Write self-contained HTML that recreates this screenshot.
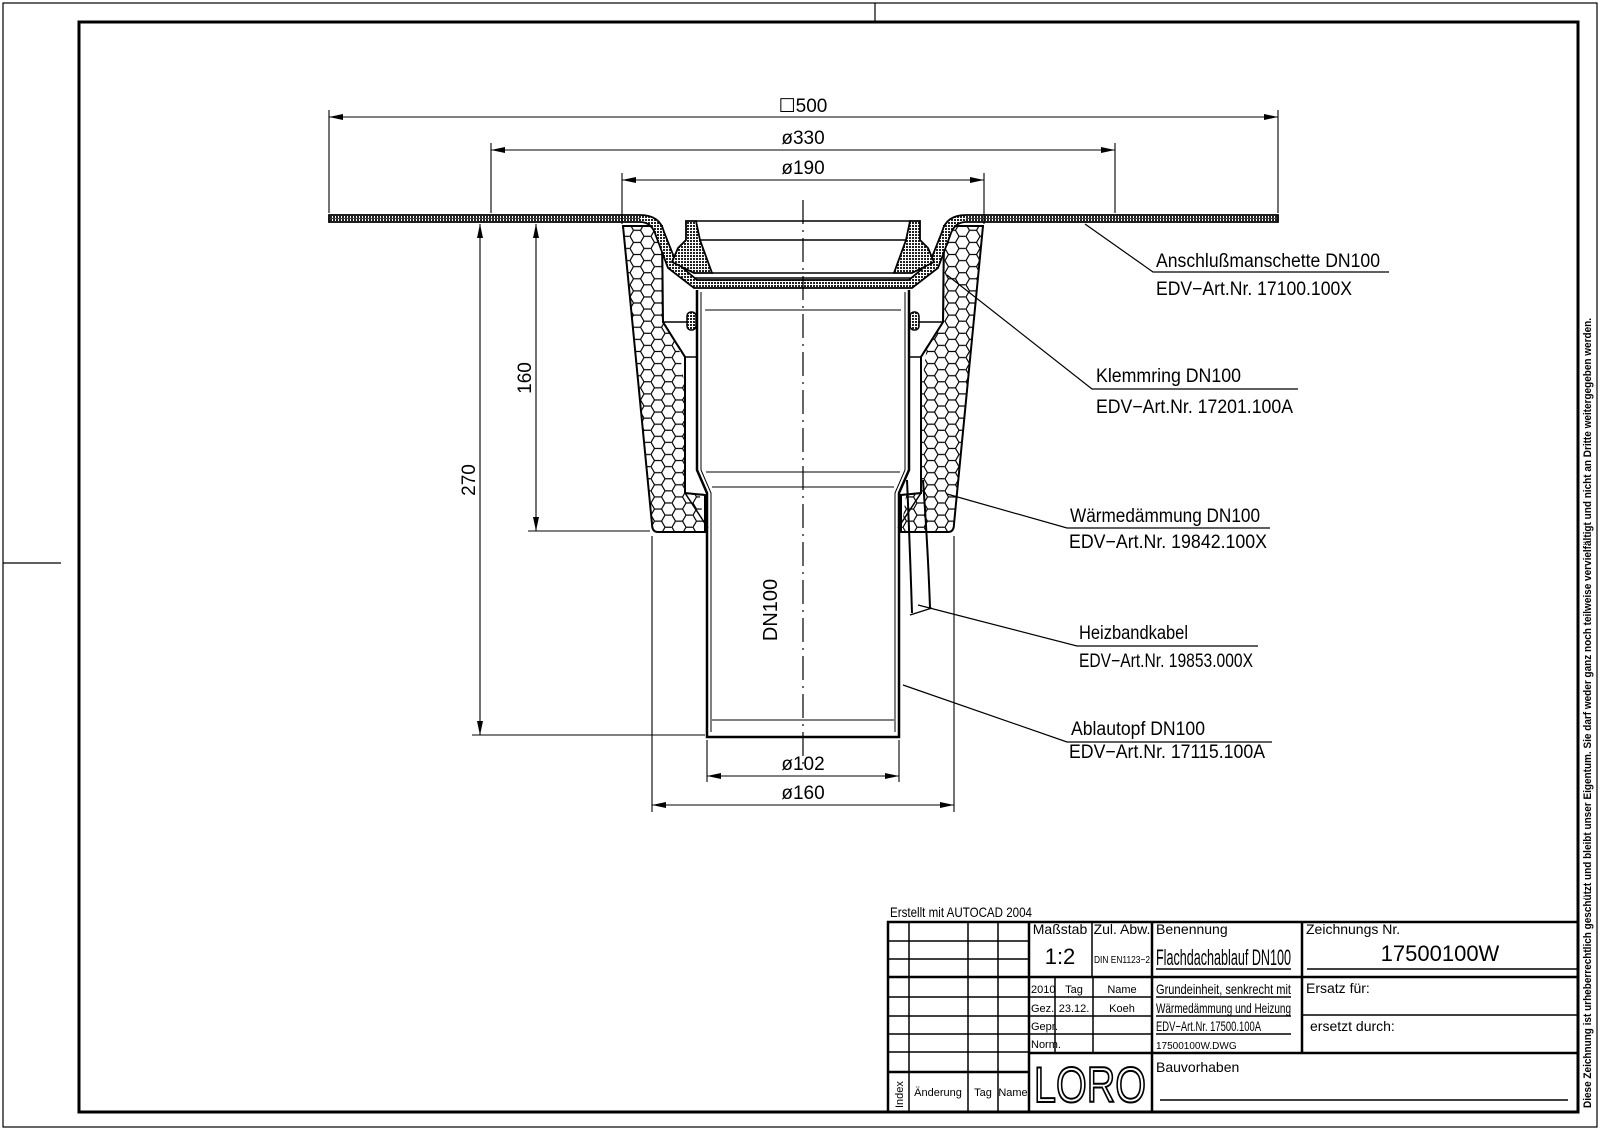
<!DOCTYPE html>
<html><head><meta charset="utf-8"><style>
html,body{margin:0;padding:0;background:#fff;}
svg{display:block;}
text{font-family:"Liberation Sans Narrow","Liberation Sans",sans-serif;fill:#000;}
</style></head><body>
<svg width="1600" height="1133" viewBox="0 0 1600 1133" xmlns="http://www.w3.org/2000/svg">
<defs>
<pattern id="hex" width="21" height="12.12" patternUnits="userSpaceOnUse">
<path d="M0,6.06 L3.5,0 L10.5,0 L14,6.06 L10.5,12.12 L3.5,12.12 Z M14,6.06 L21,6.06" fill="none" stroke="#000" stroke-width="1.2"/>
</pattern>
<pattern id="dots" width="3" height="3" patternUnits="userSpaceOnUse">
<rect width="3" height="3" fill="#fff"/><rect width="2" height="2" fill="#222"/>
</pattern>
<marker id="a" viewBox="0 0 14 6" refX="14" refY="3" markerWidth="14" markerHeight="6" markerUnits="userSpaceOnUse" orient="auto-start-reverse"><path d="M0,0 L14,3 L0,6 Z" fill="#000"/></marker>
</defs>

<!-- frames -->
<rect x="3" y="3" width="1594" height="1124" fill="none" stroke="#000" stroke-width="1.2"/>
<rect x="79" y="22" width="1499" height="1090" fill="none" stroke="#000" stroke-width="3"/>
<line x1="875" y1="3" x2="875" y2="22" stroke="#000" stroke-width="1.2"/>
<line x1="3" y1="563" x2="61" y2="563" stroke="#000" stroke-width="1.2"/>

<!-- insulation -->
<g stroke="#000" stroke-width="2">
<path d="M623,226 L662,226 L663,322 L685,357 L685,493 L705,495 L705,532 L658,532 Q652,532 652,524 Z" fill="url(#hex)"/>
<path d="M983,226 L944,226 L943,322 L921,357 L921,493 L901,495 L901,532 L948,532 Q954,532 954,524 Z" fill="url(#hex)"/>
<path d="M662,226 L663,322 L685,357 L685,493 L705,495 L705,532" fill="#fff"/>
<path d="M944,226 L943,322 L921,357 L921,493 L901,495 L901,532" fill="#fff"/>
</g>
<g stroke="#000" stroke-width="1.5" fill="none">
<line x1="663" y1="322" x2="690" y2="322"/><line x1="943" y1="322" x2="916" y2="322"/>
<line x1="685" y1="357" x2="697" y2="357"/><line x1="921" y1="357" x2="909" y2="357"/>
<line x1="685" y1="493" x2="708" y2="528"/><line x1="921" y1="493" x2="898" y2="528"/>
</g>

<!-- membrane -->
<path d="M329,215 L640,215 Q660,215 664,232 L676,262 L697,280 L909,280 L930,262 L942,232 Q946,215 966,215 L1278,215 L1278,222 L966,222 Q954,222 950,236 L938,268 L912,288 L694,288 L668,268 L656,236 Q652,222 640,222 L329,222 Z" fill="url(#dots)" stroke="#000" stroke-width="1.8"/>
<line x1="329" y1="218.5" x2="640" y2="218.5" stroke="#000" stroke-width="0.8"/>
<line x1="966" y1="218.5" x2="1278" y2="218.5" stroke="#000" stroke-width="0.8"/>
<!-- clamp ring -->
<path d="M686,221 L696,221 L700,240 L712,273 L694,273 L672,262 L678,248 L686,240 Z" fill="url(#dots)" stroke="#000" stroke-width="1.8"/>
<path d="M920,221 L910,221 L906,240 L894,273 L912,273 L934,262 L928,248 L920,240 Z" fill="url(#dots)" stroke="#000" stroke-width="1.8"/>
<g stroke="#000" stroke-width="1.5">
<line x1="696" y1="221" x2="910" y2="221"/>
<line x1="700" y1="240" x2="906" y2="240"/>
<line x1="712" y1="273" x2="894" y2="273"/>
<line x1="694" y1="278" x2="912" y2="278"/>
</g>

<!-- pipe -->
<g fill="none" stroke="#000" stroke-width="2.5">
<path d="M697,290 L697,470 L707,493 L707,737 L899,737 L899,493 L909,470 L909,290"/>
</g>
<g fill="none" stroke="#000" stroke-width="1">
<path d="M701,292 L701,470 L711,493 L711,732"/>
<path d="M905,292 L905,470 L895,493 L895,732"/>
<line x1="705" y1="310" x2="901" y2="310"/>
<line x1="706" y1="472" x2="900" y2="472"/>
<line x1="712" y1="487" x2="894" y2="487"/>
<line x1="712" y1="720" x2="894" y2="720"/>
</g>
<rect x="687" y="312" width="9" height="18" rx="4" fill="url(#dots)" stroke="#000" stroke-width="1.5"/>
<rect x="910" y="312" width="9" height="18" rx="4" fill="url(#dots)" stroke="#000" stroke-width="1.5"/>
<!-- cable -->
<path d="M907,480 Q910,550 912,613 M923,480 Q928,550 930,608" fill="none" stroke="#000" stroke-width="2"/>
<line x1="910" y1="615" x2="932" y2="608" stroke="#000" stroke-width="1.2"/>

<!-- center line -->
<line x1="803" y1="200" x2="803" y2="770" stroke="#000" stroke-width="1.2" stroke-dasharray="24,6,2,6"/>

<!-- dimensions -->
<g stroke="#000" stroke-width="1.1" fill="none">
<line x1="329" y1="110" x2="329" y2="213"/><line x1="1278" y1="110" x2="1278" y2="213"/>
<line x1="329" y1="117" x2="1278" y2="117" marker-start="url(#a)" marker-end="url(#a)"/>
<line x1="491" y1="143" x2="491" y2="213"/><line x1="1115" y1="143" x2="1115" y2="213"/>
<line x1="491" y1="150" x2="1115" y2="150" marker-start="url(#a)" marker-end="url(#a)"/>
<line x1="622" y1="173" x2="622" y2="224"/><line x1="984" y1="173" x2="984" y2="224"/>
<line x1="622" y1="180" x2="984" y2="180" marker-start="url(#a)" marker-end="url(#a)"/>
<line x1="480" y1="224" x2="480" y2="735" marker-start="url(#a)" marker-end="url(#a)"/>
<line x1="472" y1="735" x2="705" y2="735"/>
<line x1="536" y1="224" x2="536" y2="531" marker-start="url(#a)" marker-end="url(#a)"/>
<line x1="528" y1="531" x2="650" y2="531"/>
<line x1="707" y1="740" x2="707" y2="782"/><line x1="899" y1="740" x2="899" y2="782"/>
<line x1="707" y1="776" x2="899" y2="776" marker-start="url(#a)" marker-end="url(#a)"/>
<line x1="652" y1="536" x2="652" y2="812"/><line x1="954" y1="536" x2="954" y2="812"/>
<line x1="652" y1="805" x2="954" y2="805" marker-start="url(#a)" marker-end="url(#a)"/>
</g>
<g font-size="19" text-anchor="middle">
<text x="803" y="112">☐500</text>
<text x="803" y="144">ø330</text>
<text x="803" y="174">ø190</text>
<text x="803" y="770">ø102</text>
<text x="803" y="799">ø160</text>
<text transform="translate(475,480) rotate(-90)">270</text>
<text transform="translate(531,378) rotate(-90)">160</text>
<text transform="translate(777,610) rotate(-90)" font-size="20">DN100</text>
</g>

<!-- leaders -->
<g stroke="#000" stroke-width="1.2" fill="none">
<polyline points="1085,224 1153,272 1389,272"/>
<polyline points="947,275 1092,389 1298,389"/>
<polyline points="947,494 1067,528 1270,528"/>
<polyline points="918,605 1077,646 1258,646"/>
<polyline points="903,685 1067,742 1272,742"/>
</g>
<g font-size="19">
<text x="1156" y="267" textLength="224" lengthAdjust="spacingAndGlyphs">Anschlußmanschette DN100</text>
<text x="1156" y="295" textLength="196" lengthAdjust="spacingAndGlyphs">EDV−Art.Nr. 17100.100X</text>
<text x="1096" y="382" textLength="145" lengthAdjust="spacingAndGlyphs">Klemmring DN100</text>
<text x="1096" y="413" textLength="197" lengthAdjust="spacingAndGlyphs">EDV−Art.Nr. 17201.100A</text>
<text x="1070" y="522" textLength="190" lengthAdjust="spacingAndGlyphs">Wärmedämmung DN100</text>
<text x="1069" y="548" textLength="198" lengthAdjust="spacingAndGlyphs">EDV−Art.Nr. 19842.100X</text>
<text x="1079" y="639" textLength="109" lengthAdjust="spacingAndGlyphs">Heizbandkabel</text>
<text x="1079" y="667" textLength="174" lengthAdjust="spacingAndGlyphs">EDV−Art.Nr. 19853.000X</text>
<text x="1071" y="735" textLength="134" lengthAdjust="spacingAndGlyphs">Ablautopf DN100</text>
<text x="1069" y="758" textLength="196" lengthAdjust="spacingAndGlyphs">EDV−Art.Nr. 17115.100A</text>
</g>

<!-- title block -->
<text x="890" y="917" font-size="14" textLength="142" lengthAdjust="spacingAndGlyphs">Erstellt mit AUTOCAD 2004</text>
<g stroke="#000" fill="none">
<rect x="888" y="922" width="690" height="190" stroke-width="2.5"/>
<g stroke-width="1.5">
<line x1="909" y1="922" x2="909" y2="1112"/>
<line x1="968" y1="922" x2="968" y2="1112"/>
<line x1="998" y1="922" x2="998" y2="1112"/>
<line x1="888" y1="941" x2="1029" y2="941"/>
<line x1="888" y1="959" x2="1029" y2="959"/>
<line x1="888" y1="997" x2="1029" y2="997"/>
<line x1="888" y1="1016" x2="1029" y2="1016"/>
<line x1="888" y1="1034" x2="1029" y2="1034"/>
<line x1="888" y1="1052" x2="1029" y2="1052"/>
<line x1="1055" y1="977" x2="1055" y2="1053"/>
<line x1="1093" y1="977" x2="1093" y2="1053"/>
<line x1="1092" y1="922" x2="1092" y2="977"/>
<line x1="1029" y1="997" x2="1152" y2="997"/>
<line x1="1029" y1="1016" x2="1152" y2="1016"/>
<line x1="1029" y1="1034" x2="1152" y2="1034"/>
<line x1="1302" y1="1015" x2="1578" y2="1015"/>
<line x1="1156" y1="969" x2="1291" y2="969"/>
<line x1="1307" y1="969" x2="1578" y2="969"/>
<line x1="1156" y1="997" x2="1291" y2="997"/>
<line x1="1156" y1="1016" x2="1291" y2="1016"/>
<line x1="1156" y1="1034" x2="1291" y2="1034"/>
<line x1="1160" y1="1100" x2="1568" y2="1100"/>
</g>
<g stroke-width="2.5">
<line x1="1029" y1="922" x2="1029" y2="1112"/>
<line x1="1152" y1="922" x2="1152" y2="1112"/>
<line x1="1302" y1="922" x2="1302" y2="1053"/>
<line x1="888" y1="977" x2="1578" y2="977"/>
<line x1="888" y1="1072" x2="1029" y2="1072"/>
<line x1="1029" y1="1053" x2="1578" y2="1053"/>
</g>
</g>
<g font-size="14">
<text x="1060" y="934" text-anchor="middle">Maßstab</text>
<text x="1060" y="964" font-size="22" text-anchor="middle">1:2</text>
<text x="1122" y="934" text-anchor="middle">Zul. Abw.</text>
<text x="1122" y="963" font-size="10" text-anchor="middle" textLength="56" lengthAdjust="spacingAndGlyphs">DIN EN1123−2</text>
<text x="1156" y="934">Benennung</text>
<text x="1156" y="965" font-size="22" textLength="135" lengthAdjust="spacingAndGlyphs">Flachdachablauf DN100</text>
<text x="1306" y="934">Zeichnungs Nr.</text>
<text x="1440" y="961" font-size="22" text-anchor="middle">17500100W</text>
<text x="1031" y="993" font-size="11">2010</text>
<text x="1074" y="993" font-size="11" text-anchor="middle">Tag</text>
<text x="1122" y="993" font-size="11" text-anchor="middle">Name</text>
<text x="1031" y="1012" font-size="11">Gez.</text>
<text x="1074" y="1012" font-size="11" text-anchor="middle">23.12.</text>
<text x="1122" y="1012" font-size="11" text-anchor="middle">Koeh</text>
<text x="1031" y="1030" font-size="11">Gepr.</text>
<text x="1031" y="1048" font-size="11">Norm.</text>
<text x="1156" y="994" textLength="135" lengthAdjust="spacingAndGlyphs">Grundeinheit, senkrecht mit</text>
<text x="1156" y="1013" textLength="135" lengthAdjust="spacingAndGlyphs">Wärmedämmung und Heizung</text>
<text x="1156" y="1031" textLength="105" lengthAdjust="spacingAndGlyphs">EDV−Art.Nr. 17500.100A</text>
<text x="1156" y="1049" font-size="10">17500100W.DWG</text>
<text x="1306" y="993">Ersatz für:</text>
<text x="1310" y="1031">ersetzt durch:</text>
<text x="1156" y="1072">Bauvorhaben</text>
<text x="938" y="1096" font-size="11" text-anchor="middle">Änderung</text>
<text x="983" y="1096" font-size="11" text-anchor="middle">Tag</text>
<text x="1013" y="1096" font-size="11" text-anchor="middle">Name</text>
<text transform="translate(903,1108) rotate(-90)" font-size="11">Index</text>
</g>
<text x="1090" y="1102" font-size="50" text-anchor="middle" style="fill:#fff" stroke="#000" stroke-width="2" textLength="112" lengthAdjust="spacingAndGlyphs">LORO</text>
<text transform="translate(1591,1108) rotate(-90)" font-size="11" font-weight="bold" textLength="790" lengthAdjust="spacingAndGlyphs">Diese Zeichnung ist urheberrechtlich geschützt und bleibt unser Eigentum. Sie darf weder ganz noch teilweise vervielfältigt und nicht an Dritte weitergegeben werden.</text>
</svg>
</body></html>
